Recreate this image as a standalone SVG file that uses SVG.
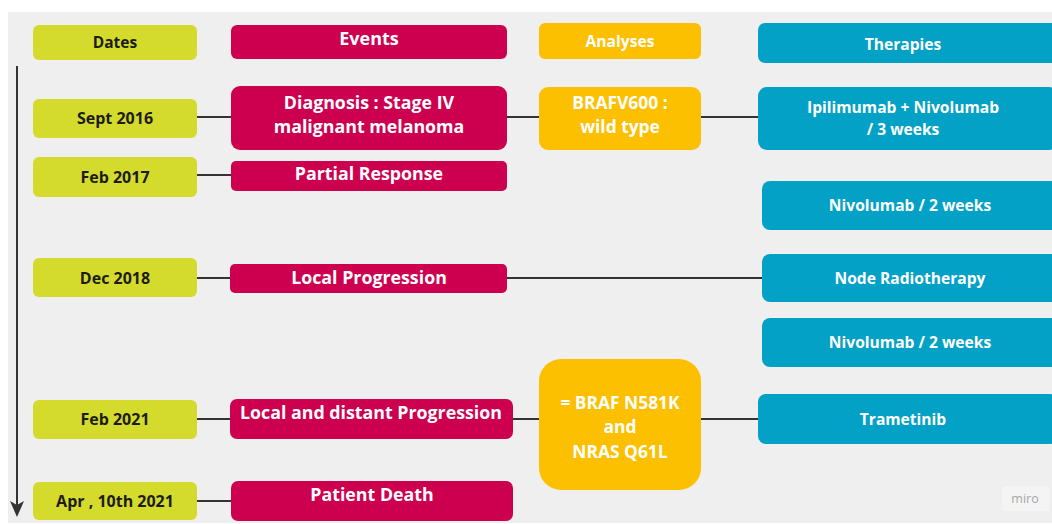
<svg xmlns="http://www.w3.org/2000/svg" width="1052" height="524" viewBox="0 0 1052 524">
<style>
text{font-family:"Open Sans","Noto Sans","Liberation Sans",sans-serif;font-weight:bold;text-anchor:middle}
.date rect{fill:#d4db2c}
.date text{fill:#1c1c14;font-size:16px}
.event rect{fill:#cd0050}
.event text{fill:#fff;font-size:17.8px}
.ana rect{fill:#fdc000}
.ana text{fill:#fff;font-size:17.4px}
.ther rect{fill:#03a1c6}
.ther text{fill:#fff;font-size:15.6px}
.conn line{stroke:#333;stroke-width:2}
</style>
<rect x="0" y="0" width="1052" height="524" fill="#ffffff"/>
<rect x="8" y="12" width="1044" height="511" fill="#efefef"/>

<g id="connectors" class="conn">
<line x1="17" y1="66" x2="17" y2="508"/>
<path d="M10,501 L17,505 L24,501 L17,517 Z" fill="#333"/>
<line x1="197" y1="117" x2="231" y2="117"/>
<line x1="507" y1="117" x2="539" y2="117"/>
<line x1="701" y1="117" x2="758" y2="117"/>
<line x1="197" y1="175" x2="231" y2="175"/>
<line x1="197" y1="278" x2="230" y2="278"/>
<line x1="507" y1="278" x2="762" y2="278"/>
<line x1="197" y1="419" x2="230" y2="419"/>
<line x1="513" y1="419" x2="539" y2="419"/>
<line x1="701" y1="419" x2="758" y2="419"/>
<line x1="197" y1="501" x2="231" y2="501"/>
</g>

<g id="h-dates" class="date"><rect x="33" y="25" width="164" height="35" rx="6"/><text x="115" y="48" style="font-size:15.5px">Dates</text></g>
<g id="h-events" class="event"><rect x="231" y="25" width="276" height="34" rx="6"/><text x="369" y="45" style="font-size:18px">Events</text></g>
<g id="h-analyses" class="ana"><rect x="539" y="23" width="162" height="36" rx="6"/><text x="620" y="47" style="font-size:15.6px">Analyses</text></g>
<g id="h-therapies" class="ther"><rect x="758" y="23" width="300" height="40" rx="7"/><text x="903" y="50">Therapies</text></g>

<g id="d-sept2016" class="date"><rect x="33" y="99" width="164" height="39" rx="6"/><text x="115" y="124">Sept 2016</text></g>
<g id="e-diagnosis" class="event"><rect x="231" y="86" width="276" height="64" rx="9"/><text x="369" y="109">Diagnosis : Stage IV</text><text x="369" y="133">malignant melanoma</text></g>
<g id="a-brafv600" class="ana"><rect x="539" y="87" width="162" height="63" rx="9"/><text x="620" y="109">BRAFV600 :</text><text x="620" y="133">wild type</text></g>
<g id="t-ipi" class="ther"><rect x="758" y="87" width="300" height="63" rx="9"/><text x="903" y="113">Ipilimumab + Nivolumab</text><text x="903" y="135">/ 3 weeks</text></g>

<g id="d-feb2017" class="date"><rect x="33" y="157" width="164" height="40" rx="6"/><text x="115" y="183">Feb 2017</text></g>
<g id="e-partial" class="event"><rect x="231" y="161" width="276" height="30" rx="5"/><text x="369" y="180">Partial Response</text></g>

<g id="t-nivo1" class="ther"><rect x="762" y="181" width="300" height="49" rx="8"/><text x="910" y="211">Nivolumab / 2 weeks</text></g>

<g id="d-dec2018" class="date"><rect x="33" y="258" width="164" height="39" rx="6"/><text x="115" y="284">Dec 2018</text></g>
<g id="e-localprog" class="event"><rect x="230" y="264" width="277" height="29" rx="5"/><text x="369" y="284">Local Progression</text></g>
<g id="t-node" class="ther"><rect x="762" y="254" width="300" height="48" rx="8"/><text x="910" y="284">Node Radiotherapy</text></g>

<g id="t-nivo2" class="ther"><rect x="762" y="318" width="300" height="49" rx="8"/><text x="910" y="348">Nivolumab / 2 weeks</text></g>

<g id="d-feb2021" class="date"><rect x="33" y="400" width="164" height="39" rx="6"/><text x="115" y="425">Feb 2021</text></g>
<g id="e-distant" class="event"><rect x="230" y="399" width="283" height="40" rx="7"/><text x="371" y="419">Local and distant Progression</text></g>
<g id="a-braf-nras" class="ana"><rect x="539" y="359" width="162" height="131" rx="22"/><text x="620" y="409">= BRAF N581K</text><text x="620" y="433">and</text><text x="620" y="458">NRAS Q61L</text></g>
<g id="t-trametinib" class="ther"><rect x="758" y="394" width="300" height="50" rx="8"/><text x="903" y="425">Trametinib</text></g>

<g id="d-apr2021" class="date"><rect x="33" y="482" width="164" height="38" rx="6"/><text x="115" y="507">Apr , 10th 2021</text></g>
<g id="e-death" class="event"><rect x="231" y="481" width="282" height="40" rx="7"/><text x="372" y="501">Patient Death</text></g>

<g id="watermark"><rect x="1002" y="486" width="47" height="25" rx="3" fill="#f4f4f4"/><text x="1025" y="503" style="font-size:12.5px;font-weight:normal;fill:#a8a8a8">miro</text></g>
</svg>
